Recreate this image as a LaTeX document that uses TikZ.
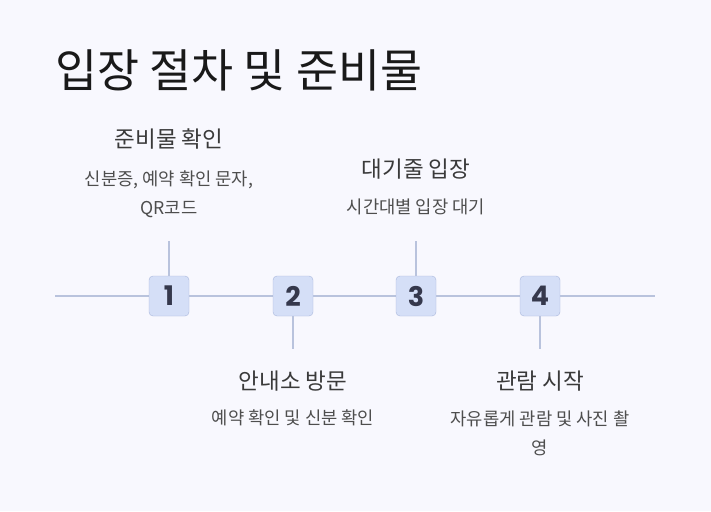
\documentclass[tikz,border=0pt]{standalone}
\usepackage{fontspec}
\setmainfont{Noto Sans CJK KR}
\newfontfamily\numfont{Poppins}
\usetikzlibrary{positioning}
\definecolor{bgcol}{HTML}{F8F8FE}
\definecolor{linecol}{HTML}{B9C3DD}
\definecolor{boxfill}{HTML}{D5DFF7}
\definecolor{boxline}{HTML}{A9B7DC}
\definecolor{numcol}{HTML}{35384C}
\definecolor{txtcol}{HTML}{3A3A3A}
\tikzset{
  stepbox/.style={draw=boxline,fill=boxfill,rounded corners=4pt,minimum size=40pt,
    inner sep=0pt,text=numcol,font=\numfont\bfseries\fontsize{27}{29}\selectfont},
  headtxt/.style={text=txtcol,inner sep=0pt,font=\fontsize{22.5}{26}\selectfont},
  desctxt/.style={text=txtcol!90,inner sep=0pt,align=center,font=\fontsize{17.7}{29}\selectfont},
  tick/.style={draw=linecol,line width=1.5pt}
}
\begin{document}
\begin{tikzpicture}[x=1pt,y=-1pt]
\fill[bgcol] (0,0) rectangle (711,511);
\useasboundingbox (0,0) rectangle (711,511);
% title
\node[anchor=west,inner sep=0pt,text=black!90,font=\fontsize{45.7}{50}\selectfont] (title) at (55,70) {입장 절차 및 준비물};
% timeline
\coordinate (l0) at (55,296);
\coordinate (l1) at (655,296);
\draw[tick] (l0) -- (l1);
\coordinate (t1) at (169,241);
\coordinate (t2) at (293,349);
\coordinate (t3) at (416,241);
\coordinate (t4) at (540,349);
\node[stepbox] (s1) at (169,296) {1};
\node[stepbox] (s2) at (293,296) {2};
\node[stepbox] (s3) at (416,296) {3};
\node[stepbox] (s4) at (540,296) {4};
\draw[tick] (s1.north) -- (t1);
\draw[tick] (s2.south) -- (t2);
\draw[tick] (s3.north) -- (t3);
\draw[tick] (s4.south) -- (t4);
% labels
\node[headtxt] (h1) at (169,139) {준비물 확인};
\node[desctxt] (d1) at (169,194) {신분증, 예약 확인 문자,\\QR코드};
\node[headtxt] (h2) at (293,381) {안내소 방문};
\node[desctxt] (d2) at (293,418) {예약 확인 및 신분 확인};
\node[headtxt] (h3) at (416,169) {대기줄 입장};
\node[desctxt] (d3) at (416,207) {시간대별 입장 대기};
\node[headtxt] (h4) at (540,381) {관람 시작};
\node[desctxt] (d4) at (540,433) {자유롭게 관람 및 사진 촬\\영};
\end{tikzpicture}
\end{document}
